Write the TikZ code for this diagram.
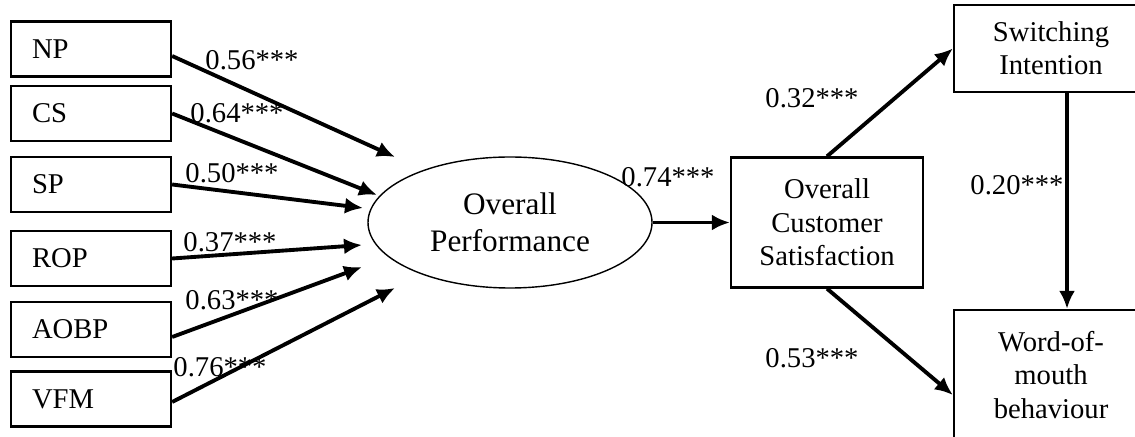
\documentclass[tikz,border=0pt]{standalone}
\usepackage{fontspec}
\setmainfont{Liberation Serif}
\usetikzlibrary{
  shapes.geometric,
  arrows.meta,
  positioning
}
\tikzset{
factorbox/.style={
  draw,
  line width=1.3pt,
  minimum width=3.2cm,
  minimum height=1.1cm,
  text width=2.36cm,
  inner xsep=0.42cm,
  align=left
},
outcomebox/.style={
  draw,
  line width=1.3pt,
  minimum width=3.88cm,
  align=center
},
latentnode/.style={
  draw,
  ellipse,
  line width=0.8pt,
  minimum width=5.68cm,
  minimum height=2.62cm,
  inner sep=0pt,
  align=center,
  font=\fontsize{17.8}{21}\selectfont
}
}

\begin{document}
\begin{tikzpicture}[
    font=\fontsize{16.3}{19}\selectfont,
    arr/.style={-{Latex[length=3.6mm,width=3.2mm]}, line width=2.2pt},
    coef/.style={inner sep=0pt}
  ]
  \useasboundingbox (0,0) rectangle (22.7,8.72);
  \clip (0,0) rectangle (22.7,8.72);

  \node[factorbox] (np)   at (1.82,7.74) {NP};
  \node[factorbox] (cs)   at (1.82,6.45) {CS};
  \node[factorbox] (sp)   at (1.82,5.03) {SP};
  \node[factorbox] (rop)  at (1.82,3.55) {ROP};
  \node[factorbox] (aobp) at (1.82,2.13) {AOBP};
  \node[factorbox] (vfm)  at (1.82,0.74) {VFM};

  \node[latentnode] (perf) at (10.2,4.27) {Overall\\Performance};
  \node[outcomebox, minimum width=3.84cm, minimum height=2.6cm] (ocs) at (16.54,4.27) {Overall\\Customer\\Satisfaction};
  \node[outcomebox, minimum height=1.74cm] (sw)  at (21.02,7.75) {Switching\\Intention};
  \node[outcomebox, minimum height=2.6cm]  (wom) at (21.02,1.22) {Word-of-\\mouth\\behaviour};

  \coordinate (t1) at (7.90,5.58);
  \coordinate (t2) at (7.54,4.82);
  \coordinate (t3) at (7.26,4.56);
  \coordinate (t4) at (7.24,3.82);
  \coordinate (t5) at (7.24,3.38);
  \coordinate (t6) at (7.90,2.96);

  \draw[arr] ([yshift=-0.14cm]np.east) -- (t1);
  \draw[arr] (cs.east) -- (t2);
  \draw[arr] (sp.east) -- (t3);
  \draw[arr] (rop.east) -- (t4);
  \draw[arr] ([yshift=-0.15cm]aobp.east) -- (t5);
  \draw[arr] ([yshift=-0.06cm]vfm.east) -- (t6);

  \draw[arr] (perf.east) -- (ocs.west);
  \draw[arr] (ocs.north) -- (sw.west);
  \draw[arr] (ocs.south) -- ([yshift=-0.4cm]wom.west);
  \draw[arr] ([xshift=0.32cm]sw.south) -- ([xshift=0.32cm]wom.north);

  \node[coef] (c56) at (5.04,7.52) {0.56***};
  \node[coef] (c64) at (4.74,6.46) {0.64***};
  \node[coef] (c50) at (4.64,5.26) {0.50***};
  \node[coef] (c37) at (4.60,3.88) {0.37***};
  \node[coef] (c63) at (4.64,2.72) {0.63***};
  \node[coef] (c76) at (4.40,1.38) {0.76***};
  \node[coef] (c74) at (13.36,5.18) {0.74***};
  \node[coef] (c32) at (16.24,6.76) {0.32***};
  \node[coef] (c20) at (20.34,5.02) {0.20***};
  \node[coef] (c53) at (16.24,1.56) {0.53***};
\end{tikzpicture}
\end{document}
